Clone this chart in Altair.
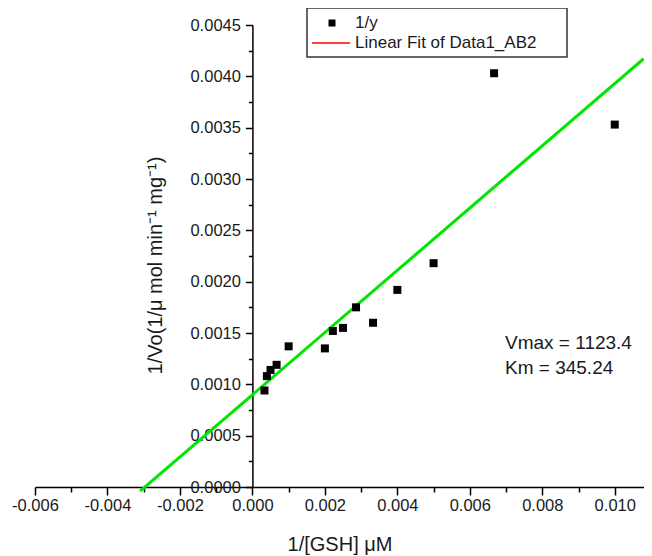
import altair as alt
import pandas as pd

# ---- data ----
inv_gsh = [0.000333, 0.0004, 0.0005, 0.000667, 0.001, 0.002, 0.00222, 0.0025,
           0.00286, 0.00333, 0.004, 0.005, 0.00667, 0.010]
inv_vo = [0.00094, 0.00108, 0.00114, 0.00119, 0.00137, 0.00135, 0.00152, 0.00155,
          0.00175, 0.00160, 0.00192, 0.00218, 0.00403, 0.00353]
fit_extent = [-0.0031, 0.0108]
legend_labels = ["1/y", "Linear Fit of Data1_AB2"]
annot_lines = ["Vmax = 1123.4", "Km = 345.24"]
x_ticks = [round(-0.006 + 0.001 * i, 3) for i in range(17)]
y_ticks = [round(0.00025 * i, 5) for i in range(19)]
x_title = "1/[GSH] \u03bcM"
y_title = "1/Vo(1/\u03bc mol min\u207b\u00b9 mg\u207b\u00b9)"

X_DOM = [-0.006, 0.010807]
Y_DOM = [0.0, 0.0045]
W, H = 609, 462
FONT = "Liberation Sans"
TXT = "#1a1a1a"

df = pd.DataFrame({"x": inv_gsh, "y": inv_vo})
one = pd.DataFrame({"d": [0]})

xs = alt.Scale(domain=X_DOM, nice=False, zero=False)
ys = alt.Scale(domain=Y_DOM, nice=False, zero=False)

x_major = "abs(round(datum.value*1000)) % 2 == 0"
y_major = "abs(round(datum.value*4000)) % 2 == 0"

xaxis = alt.Axis(
    values=x_ticks,
    labelExpr=f"{x_major} ? (datum.value < -0.0000001 ? '-' : '') + format(abs(datum.value), '.3f') : ''",
    tickSize={"condition": {"test": x_major, "value": 8}, "value": 5},
    title=x_title, titleFontSize=20, titleFont=FONT, titleFontWeight="normal",
    titleColor=TXT, titlePadding=21,
    labelFontSize=16.5, labelFont=FONT, labelColor=TXT, labelPadding=2,
    labelOverlap=False, labelFlush=False,
    domainColor="black", domainWidth=1.5, tickColor="black", tickWidth=1.5,
    grid=False,
)
yaxis = alt.Axis(
    values=y_ticks,
    labelExpr=f"{y_major} ? format(datum.value, '.4f') : ''",
    tickSize={"condition": {"test": y_major, "value": 7}, "value": 4},
    offset=-(W * (0 - X_DOM[0]) / (X_DOM[1] - X_DOM[0])),
    title=y_title, titleFontSize=20, titleFont=FONT, titleFontWeight="normal",
    titleColor=TXT, titlePadding=24, titleY=240,
    labelFontSize=16.5, labelFont=FONT, labelColor=TXT, labelPadding=5,
    labelOverlap=False, labelFlush=False,
    domainColor="black", domainWidth=1.5, tickColor="black", tickWidth=1.5,
    grid=False,
)

fit = alt.Chart(df).transform_regression(
    "x", "y", extent=fit_extent
).mark_line(color="#00e600", strokeWidth=3, clip=False).encode(
    x=alt.X("x:Q", scale=xs, axis=xaxis),
    y=alt.Y("y:Q", scale=ys, axis=yaxis),
)

points = alt.Chart(df).mark_point(
    shape="square", filled=True, size=64, color="black", opacity=1
).encode(
    x=alt.X("x:Q", scale=xs, axis=xaxis),
    y=alt.Y("y:Q", scale=ys, axis=yaxis),
)

# legend box (drawn by hand to mimic the reference)
leg_box = alt.Chart(one).mark_rect(fill="white", stroke="#333333", strokeWidth=1.5).encode(
    x=alt.value(272), x2=alt.value(532), y=alt.value(-17), y2=alt.value(32)
)
leg_sym = alt.Chart(one).mark_point(shape="square", filled=True, size=49, color="black", opacity=1).encode(
    x=alt.value(297), y=alt.value(-2)
)
leg_line = alt.Chart(one).mark_rule(color="#ff0000", strokeWidth=1.5).encode(
    x=alt.value(277), x2=alt.value(315), y=alt.value(18)
)
leg_t1 = alt.Chart(one).mark_text(
    text=legend_labels[0], align="left", baseline="middle", fontSize=17, font=FONT, color=TXT
).encode(x=alt.value(320), y=alt.value(-2))
leg_t2 = alt.Chart(one).mark_text(
    text=legend_labels[1], align="left", baseline="middle", fontSize=17, font=FONT, color=TXT
).encode(x=alt.value(320), y=alt.value(18))

ann1 = alt.Chart(one).mark_text(
    text=annot_lines[0], align="left", baseline="middle", fontSize=19, font=FONT, color=TXT
).encode(x=alt.value(470), y=alt.value(318))
ann2 = alt.Chart(one).mark_text(
    text=annot_lines[1], align="left", baseline="middle", fontSize=19, font=FONT, color=TXT
).encode(x=alt.value(470), y=alt.value(343))

chart = alt.layer(
    fit, points, leg_box, leg_sym, leg_line, leg_t1, leg_t2, ann1, ann2
).properties(
    width=W, height=H,
    autosize=alt.AutoSizeParams(type="none"),
    padding={"left": 27, "top": 17, "right": 0, "bottom": 69},
    background="white",
).configure_view(stroke=None)

chart.save("out.html", embed_options={"renderer": "svg", "actions": False})
